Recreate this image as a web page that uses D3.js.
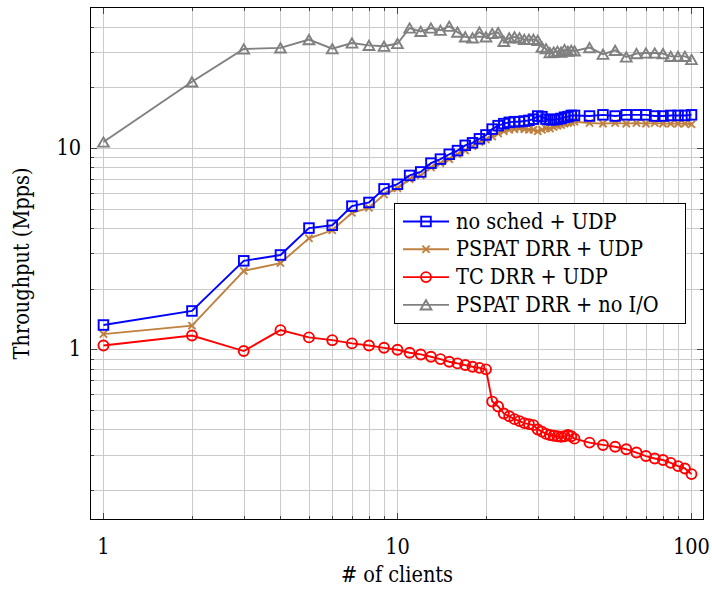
<!DOCTYPE html>
<html>
<head>
<meta charset="utf-8">
<script src="https://cdn.jsdelivr.net/npm/d3@7"></script>
<style>
  body { margin: 0; background: #fff; }
  svg text { font-family: "DejaVu Serif Condensed", "DejaVu Serif", serif; font-stretch: condensed; }
</style>
</head>
<body>
<svg id="chart" width="712" height="589"></svg>
<script>
const clients = [1, 2, 3, 4, 5, 6, 7, 8, 9, 10, 11, 12, 13, 14, 15, 16, 17, 18, 19, 20,
  21, 22, 23, 24, 25, 26, 27, 28, 29, 30, 31, 32, 33, 34, 35, 36, 37, 38, 39, 40,
  45, 50, 55, 60, 65, 70, 75, 80, 85, 90, 95, 100];

const noSchedUdp = [1.32, 1.55, 2.75, 2.94, 4.0, 4.13, 5.14, 5.36, 6.26, 6.6,
  7.3, 7.6, 8.4, 8.8, 9.3, 9.7, 10.3, 10.6, 11.1, 11.6,
  12.4, 12.9, 13.2, 13.4, 13.5, 13.5, 13.6, 13.7, 13.9, 14.4,
  14.3, 13.9, 13.8, 13.8, 13.9, 14.0, 14.2, 14.3, 14.5, 14.5,
  14.4, 14.6, 14.4, 14.6, 14.6, 14.6, 14.4, 14.4, 14.5, 14.5, 14.5, 14.6];

const pspatDrrUdp = [1.19, 1.31, 2.45, 2.68, 3.56, 3.9, 4.76, 5.04, 5.87, 6.3,
  7.0, 7.3, 8.0, 8.4, 8.8, 9.3, 9.7, 10.2, 10.7, 11.0,
  11.4, 11.8, 12.1, 12.3, 12.4, 12.5, 12.4, 12.3, 12.3, 12.1,
  12.3, 12.5, 12.5, 12.7, 12.9, 13.0, 13.2, 13.3, 13.4, 13.5,
  13.3, 13.2, 13.3, 13.2, 13.3, 13.2, 13.3, 13.2, 13.2, 13.2, 13.2, 13.1];

const tcDrrUdp = [1.045, 1.17, 0.98, 1.245, 1.146, 1.11, 1.07, 1.045, 1.017, 0.995,
  0.961, 0.943, 0.918, 0.894, 0.867, 0.851, 0.835, 0.819, 0.809, 0.795,
  0.55, 0.52, 0.48, 0.465, 0.45, 0.44, 0.43, 0.425, 0.42, 0.40,
  0.39, 0.38, 0.375, 0.372, 0.37, 0.368, 0.37, 0.375, 0.37, 0.36,
  0.344, 0.335, 0.328, 0.319, 0.307, 0.295, 0.287, 0.282, 0.273, 0.263, 0.256, 0.24];

const pspatDrrNoIo = [10.7, 21.3, 31.0, 31.4, 34.5, 31.1, 33.2, 32.3, 32.0, 33.0,
  39.4, 37.9, 39.4, 38.4, 40.2, 37.6, 35.6, 35.2, 37.6, 35.6,
  37.0, 37.4, 33.8, 35.2, 35.6, 35.2, 34.6, 34.6, 34.6, 34.2,
  31.7, 31.1, 29.7, 29.9, 30.2, 29.9, 30.8, 30.2, 30.5, 30.3,
  31.5, 29.2, 30.5, 28.3, 29.4, 29.6, 29.6, 29.4, 28.5, 28.5, 28.5, 27.5];

const seriesNames = ["no sched + UDP", "PSPAT DRR + UDP", "TC DRR + UDP", "PSPAT DRR + no I/O"];
const xTicks = [1, 10, 100];
const yTicks = [1, 10];

const series = [
  { name: seriesNames[0], values: noSchedUdp, color: "#0000ff", mark: "square" },
  { name: seriesNames[1], values: pspatDrrUdp, color: "#bf8040", mark: "cross" },
  { name: seriesNames[2], values: tcDrrUdp, color: "#ff0000", mark: "circle" },
  { name: seriesNames[3], values: pspatDrrNoIo, color: "#808080", mark: "triangle" }
];

const plotL = 90, plotR = 704, plotT = 7, plotB = 520;
const svg = d3.select("#chart");

const x = d3.scaleLog().domain([0.9, 110.3]).range([plotL, plotR]);
const y = d3.scaleLog().domain([0.142, 50.1]).range([plotB, plotT]);

// minor + major grid values
const xGrid = [];
[1, 10, 100].forEach((d) => { for (let k = 1; k < 10; k++) { const v = d * k; if (v <= 110) xGrid.push(v); } });
const yGrid = [];
[0.1, 1, 10].forEach((d) => { for (let k = 1; k < 10; k++) { const v = d * k; if (v >= 0.142 && v <= 50.1) yGrid.push(+v.toFixed(2)); } });

const grid = svg.append("g").attr("stroke", "#cbcbcb").attr("stroke-width", 1);
grid.selectAll(".gx").data(xGrid).enter().append("line")
  .attr("x1", (d) => Math.round(x(d)) + 0.5).attr("x2", (d) => Math.round(x(d)) + 0.5)
  .attr("y1", plotT).attr("y2", plotB);
grid.selectAll(".gy").data(yGrid).enter().append("line")
  .attr("y1", (d) => Math.round(y(d)) + 0.5).attr("y2", (d) => Math.round(y(d)) + 0.5)
  .attr("x1", plotL).attr("x2", plotR);

// tick marks inside on all four sides
const ticks = svg.append("g").attr("stroke", "#444").attr("stroke-width", 1);
xGrid.forEach((d) => {
  const len = xTicks.includes(d) ? 7 : 4;
  const px = Math.round(x(d)) + 0.5;
  ticks.append("line").attr("x1", px).attr("x2", px).attr("y1", plotB).attr("y2", plotB - len);
  ticks.append("line").attr("x1", px).attr("x2", px).attr("y1", plotT).attr("y2", plotT + len);
});
yGrid.forEach((d) => {
  const len = yTicks.includes(d) ? 7 : 4;
  const py = Math.round(y(d)) + 0.5;
  ticks.append("line").attr("y1", py).attr("y2", py).attr("x1", plotL).attr("x2", plotL + len);
  ticks.append("line").attr("y1", py).attr("y2", py).attr("x1", plotR).attr("x2", plotR - len);
});

function drawMark(g, kind, cx, cy, color) {
  if (kind === "square") {
    g.append("rect").attr("x", cx - 4.8).attr("y", cy - 4.8).attr("width", 9.6).attr("height", 9.6)
      .attr("fill", "none").attr("stroke", color).attr("stroke-width", 1.9);
  } else if (kind === "circle") {
    g.append("circle").attr("cx", cx).attr("cy", cy).attr("r", 5)
      .attr("fill", "none").attr("stroke", color).attr("stroke-width", 1.9);
  } else if (kind === "cross") {
    const r = 3.6;
    g.append("path").attr("d", `M${cx - r},${cy - r}L${cx + r},${cy + r}M${cx - r},${cy + r}L${cx + r},${cy - r}`)
      .attr("stroke", color).attr("stroke-width", 1.9);
  } else {
    const r = 6.2;
    g.append("path")
      .attr("d", `M${cx},${cy - r * 0.75}L${cx + r * 0.866},${cy + r * 0.75}L${cx - r * 0.866},${cy + r * 0.75}Z`)
      .attr("fill", "none").attr("stroke", color).attr("stroke-width", 1.9).attr("stroke-linejoin", "miter");
  }
}

const line = d3.line().x((d) => x(d[0])).y((d) => y(d[1]));

// draw in reverse so the first series ends on top
[3, 2, 1, 0].forEach((i) => {
  const s = series[i];
  const pts = clients.map((c, j) => [c, s.values[j]]);
  const g = svg.append("g");
  g.append("path").datum(pts).attr("d", line)
    .attr("fill", "none").attr("stroke", s.color).attr("stroke-width", 1.9);
  pts.forEach((p) => drawMark(g, s.mark, x(p[0]), y(p[1]), s.color));
});

// frame
svg.append("rect").attr("x", plotL + 0.5).attr("y", plotT + 0.5)
  .attr("width", plotR - plotL - 1).attr("height", plotB - plotT - 1)
  .attr("fill", "none").attr("stroke", "#000").attr("stroke-width", 1);

// tick labels
svg.selectAll(".xt").data(xTicks).enter().append("text")
  .attr("x", (d) => x(d)).attr("y", 554).attr("text-anchor", "middle")
  .attr("font-size", 21.5).text((d) => d);
svg.selectAll(".yt").data(yTicks).enter().append("text")
  .attr("x", 81).attr("y", (d) => y(d) + 7).attr("text-anchor", "end")
  .attr("font-size", 21.5).text((d) => d);

// axis titles
svg.append("text").attr("x", (plotL + plotR) / 2).attr("y", 582).attr("text-anchor", "middle")
  .attr("font-size", 21.5).text("# of clients");
svg.append("text").attr("transform", `translate(29,${(plotT + plotB) / 2}) rotate(-90)`)
  .attr("text-anchor", "middle").attr("font-size", 21.5).text("Throughput (Mpps)");

// legend
const legend = svg.append("g");
legend.append("rect").attr("x", 394.5).attr("y", 203.5).attr("width", 291).attr("height", 120)
  .attr("fill", "#fff").attr("stroke", "#000").attr("stroke-width", 1);
series.forEach((s, i) => {
  const ly = 221.5 + i * 27.8;
  legend.append("line").attr("x1", 403).attr("x2", 449).attr("y1", ly).attr("y2", ly)
    .attr("stroke", s.color).attr("stroke-width", 1.9);
  drawMark(legend, s.mark, 426, ly, s.color);
  legend.append("text").attr("x", 456).attr("y", ly + 7).attr("font-size", 21.5).text(s.name);
});
</script>
</body>
</html>
